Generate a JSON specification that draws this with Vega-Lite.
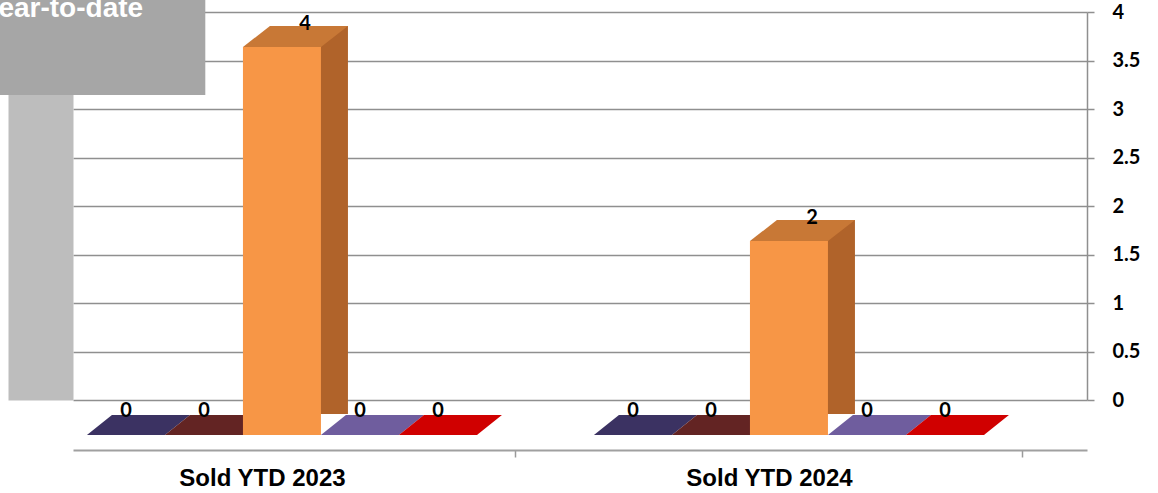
{
  "$schema": "https://vega.github.io/schema/vega-lite/v6.json",
  "width": 1014,
  "height": 388,
  "autosize": {"type": "none"},
  "padding": {"left": 73, "top": 12, "right": 71, "bottom": 93},
  "background": "white",
  "config": {"view": {"stroke": null}},
  "data": {
    "values": [
      {"category": "Sold YTD 2023", "series": "Series 1", "value": 0},
      {"category": "Sold YTD 2023", "series": "Series 2", "value": 0},
      {"category": "Sold YTD 2023", "series": "Series 3", "value": 4},
      {"category": "Sold YTD 2023", "series": "Series 4", "value": 0},
      {"category": "Sold YTD 2023", "series": "Series 5", "value": 0},
      {"category": "Sold YTD 2024", "series": "Series 1", "value": 0},
      {"category": "Sold YTD 2024", "series": "Series 2", "value": 0},
      {"category": "Sold YTD 2024", "series": "Series 3", "value": 2},
      {"category": "Sold YTD 2024", "series": "Series 4", "value": 0},
      {"category": "Sold YTD 2024", "series": "Series 5", "value": 0}
    ]
  },
  "encoding": {
    "x": {
      "field": "category", "type": "nominal", "sort": null,
      "scale": {"type": "band", "paddingInner": 0.2308, "paddingOuter": 0.1154, "align": 0.35},
      "axis": {
        "orient": "bottom", "offset": 50, "title": null, "labelAngle": 0,
        "labelFont": "Liberation Sans", "labelFontSize": 24, "labelFontWeight": "bold",
        "labelColor": "#000000", "labelPadding": 9,
        "tickOffset": 206.5, "labelOffset": -253.5, "tickSize": 7, "tickColor": "#9A9A9A", "tickWidth": 1.5,
        "domainColor": "#A0A0A0", "domainWidth": 2, "grid": false
      }
    }
  },
  "layer": [
    {
      "transform": [{"filter": "datum.value == 0"}],
      "mark": {"type": "point", "shape": "M -1 0.194 L 0.515 0.194 L 1 -0.194 L -0.515 -0.194 Z", "size": 10609, "filled": true, "opacity": 1, "strokeWidth": 0, "yOffset": 25},
      "encoding": {
        "xOffset": {"field": "series", "type": "nominal", "scale": {"type": "point", "domain": ["Series 1", "Series 2", "Series 3", "Series 4", "Series 5"], "range": [24.5, 336.5], "padding": 0}},
        "y": {
          "field": "value", "type": "quantitative", "scale": {"domain": [0, 4], "nice": false},
          "axis": {"orient": "left", "offset": 32.5, "domainWidth": 65, "domainColor": "#BDBDBD", "ticks": false, "labels": false, "grid": false, "title": null}
        },
        "color": {
          "field": "series", "type": "nominal",
          "scale": {"domain": ["Series 1", "Series 2", "Series 3", "Series 4", "Series 5"], "range": ["#3B3262", "#632423", "#F79646", "#6F5D9E", "#D00000"]},
          "legend": {
            "title": "Year-to-date", "orient": "none", "legendX": -91.7, "legendY": -17,
            "direction": "horizontal", "columns": 5, "fillColor": "#A6A6A6", "padding": 0,
            "titleFont": "Liberation Sans", "titleFontSize": 28, "titleFontWeight": "bold", "titleColor": "#FFFFFF", "titlePadding": 52,
            "symbolType": "square", "symbolSize": 400, "symbolOpacity": 0, "symbolStrokeWidth": 0,
            "labelExpr": "''", "labelOffset": 0, "columnPadding": 31
          }
        }
      }
    },
    {
      "transform": [{"filter": "datum.value > 0"}],
      "mark": {"type": "bar", "color": "#B0632A", "yOffset": 14, "y2Offset": 24},
      "encoding": {
        "xOffset": {"field": "series", "type": "nominal", "scale": {"domain": ["Series 1", "Series 2", "Series 3", "Series 4", "Series 5"], "range": [0, 390], "paddingInner": 0, "paddingOuter": 0}},
        "y": {"field": "value", "type": "quantitative", "axis": null}
      }
    },
    {
      "transform": [{"filter": "datum.value > 0"}],
      "mark": {"type": "point", "shape": "M -1 0.2 L 0.486 0.2 L 1 -0.2 L -0.486 -0.2 Z", "size": 11025, "filled": true, "opacity": 1, "strokeWidth": 0, "color": "#C87836", "yOffset": 24.5},
      "encoding": {
        "xOffset": {"field": "series", "type": "nominal", "scale": {"type": "point", "domain": ["Series 1", "Series 2", "Series 3", "Series 4", "Series 5"], "range": [25.5, 337.5], "padding": 0}},
        "y": {"field": "value", "type": "quantitative", "axis": null}
      }
    },
    {
      "transform": [{"filter": "datum.value > 0"}],
      "mark": {"type": "bar", "yOffset": 35, "y2Offset": 35},
      "encoding": {
        "xOffset": {"field": "series", "type": "nominal", "scale": {"domain": ["Series 1", "Series 2", "Series 3", "Series 4", "Series 5"], "range": [-27, 363], "paddingInner": 0, "paddingOuter": 0}},
        "y": {
          "field": "value", "type": "quantitative",
          "axis": {
            "orient": "right", "values": [0, 0.5, 1, 1.5, 2, 2.5, 3, 3.5, 4], "title": null,
            "labelExpr": "datum.value + ''",
            "grid": true, "gridColor": "#8F8F8F", "gridWidth": 1.5,
            "domainColor": "#8F8F8F", "domainWidth": 1.5, "tickColor": "#8F8F8F", "tickSize": 7, "tickWidth": 1.5,
            "labelPadding": 18, "labelFont": "Lato", "labelFontSize": 20, "labelFontWeight": "bold", "labelColor": "#000000"
          }
        },
        "color": {"field": "series", "type": "nominal"}
      }
    },
    {
      "transform": [{"filter": "datum.value == 0"}],
      "mark": {"type": "text", "font": "Lato", "fontSize": 20, "fontWeight": "bold", "color": "#000000", "baseline": "middle", "yOffset": 11},
      "encoding": {
        "xOffset": {"field": "series", "type": "nominal", "scale": {"type": "point", "domain": ["Series 1", "Series 2", "Series 3", "Series 4", "Series 5"], "range": [12, 324], "padding": 0}},
        "y": {"field": "value", "type": "quantitative", "axis": null},
        "text": {"field": "value", "type": "quantitative"}
      }
    },
    {
      "transform": [{"filter": "datum.value > 0"}],
      "mark": {"type": "text", "font": "Lato", "fontSize": 20, "fontWeight": "bold", "color": "#000000", "baseline": "middle", "yOffset": 12},
      "encoding": {
        "xOffset": {"field": "series", "type": "nominal", "scale": {"type": "point", "domain": ["Series 1", "Series 2", "Series 3", "Series 4", "Series 5"], "range": [35, 347], "padding": 0}},
        "y": {"field": "value", "type": "quantitative", "axis": null},
        "text": {"field": "value", "type": "quantitative"}
      }
    }
  ],
  "resolve": {"scale": {"xOffset": "independent"}, "axis": {"y": "independent"}}
}
